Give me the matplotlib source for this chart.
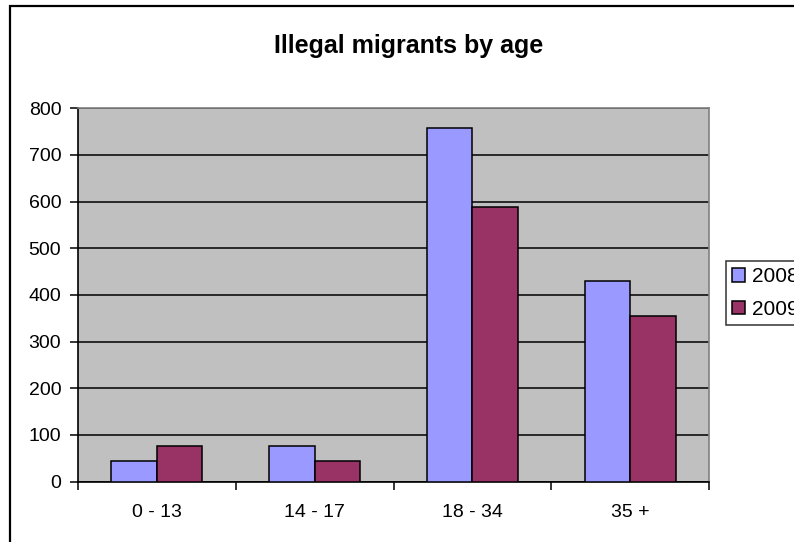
import numpy as np
import matplotlib
matplotlib.use("Agg")
import matplotlib.pyplot as plt
import matplotlib.patches as patches

plt.rcParams['font.family'] = ['Liberation Sans', 'DejaVu Sans']

# age groups and counts per year
categories = ['0 - 13', '14 - 17', '18 - 34', '35 +']
series_names = ['2008', '2009']
values_2008 = [45, 76, 757, 430]
values_2009 = [76, 45, 589, 355]
y_ticks = [0, 100, 200, 300, 400, 500, 600, 700, 800]

colors = ['#9999FF', '#993366']

fig = plt.figure(figsize=(7.94, 5.42), dpi=100)
ax = fig.add_axes([0.0982, 0.1113, 0.795, 0.689])
ax.set_facecolor('#C0C0C0')

x = np.arange(len(categories)) + 0.5
w = 0.289
ax.bar(x - w / 2, values_2008, w, color=colors[0], edgecolor='black', linewidth=1.1,
       label=series_names[0], zorder=3)
ax.bar(x + w / 2, values_2009, w, color=colors[1], edgecolor='black', linewidth=1.1,
       label=series_names[1], zorder=3)

ax.set_xlim(0, len(categories))
ax.set_ylim(0, 800)
ax.set_yticks(y_ticks)
ax.yaxis.grid(True, color='black', linewidth=1.1, zorder=1)
ax.set_axisbelow(True)

# boundaries between groups get the tick marks, labels sit at the centres
ax.set_xticks(np.arange(len(categories) + 1))
ax.set_xticklabels([])
ax.set_xticks(x, minor=True)
ax.set_xticklabels(categories, minor=True)
ax.tick_params(axis='x', which='minor', length=0, pad=16, labelsize=14)
ax.tick_params(axis='x', which='major', length=6, width=1.1, direction='out')
ax.tick_params(axis='y', length=6, width=1.1, direction='out', labelsize=14, pad=6)

for side in ['top', 'right']:
    ax.spines[side].set_color('#808080')
    ax.spines[side].set_linewidth(1.2)
for side in ['left', 'bottom']:
    ax.spines[side].set_color('black')
    ax.spines[side].set_linewidth(1.2)

fig.text(0.515, 0.915, 'Illegal migrants by age', ha='center', va='center',
         fontsize=18, fontweight='bold')

leg = fig.legend(loc='upper left', bbox_to_anchor=(726 / 794, 1 - 261 / 542),
                 fontsize=15, frameon=True, fancybox=False, handlelength=0.6,
                 handleheight=0.6, handletextpad=0.35, borderpad=0.3,
                 labelspacing=0.65, borderaxespad=0)
leg.get_frame().set_edgecolor('black')
leg.get_frame().set_linewidth(1.1)

# outer chart border, runs off the right and bottom edges
border = patches.Rectangle((10 / 794, -0.05), 1.0, 1 - 6 / 542 + 0.05,
                           transform=fig.transFigure, fill=False,
                           edgecolor='black', linewidth=1.6, clip_on=False)
fig.patches.append(border)

fig.savefig('out.png', dpi=100)
